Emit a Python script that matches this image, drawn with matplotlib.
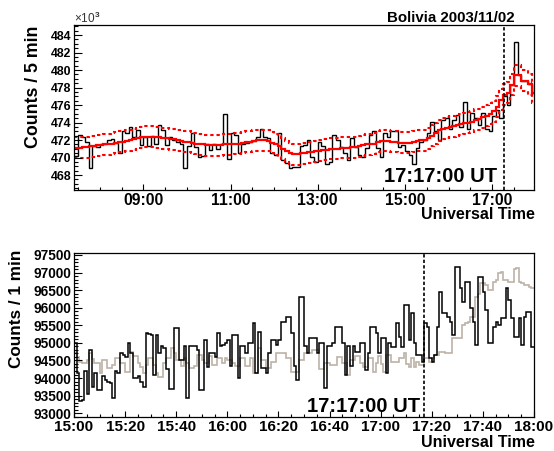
import numpy as np
import matplotlib
matplotlib.use("Agg")
import matplotlib.pyplot as plt
from matplotlib.ticker import MultipleLocator, FixedLocator, FuncFormatter

plt.rcParams['font.family'] = ['Liberation Sans', 'DejaVu Sans']
plt.rcParams['font.weight'] = 'bold'
plt.rcParams['mathtext.fontset'] = 'custom'
plt.rcParams['mathtext.rm'] = 'Liberation Sans'

# ---- top panel: 5 min counts (x10^3), bins start 07:25 ----
start_5min = 7 + 25 / 60.
bin_5min = 5 / 60.
counts_5min = [
    470.2, 472.6, 472.3, 471.8, 468.8, 471.3, 471.2, 471.6, 471.6, 472.0,
    472.1, 471.7, 470.5, 473.0, 472.8, 473.5, 472.4, 473.2, 471.4, 472.4,
    471.3, 472.5, 471.5, 473.7, 473.2, 471.4, 472.4, 472.0, 471.8, 471.6,
    468.8, 471.3, 472.8, 471.2, 470.1, 470.2, 471.6, 470.9, 471.6, 471.0,
    471.6, 475.0, 469.8, 472.8, 472.6, 470.5, 471.5, 471.7, 471.8, 471.9,
    472.3, 473.3, 472.3, 472.2, 470.5, 470.3, 472.8, 469.7, 469.4, 468.8,
    468.9, 468.9, 471.3, 471.4, 472.0, 470.1, 469.5, 471.8, 471.3, 469.3,
    469.5, 472.6, 472.0, 471.25, 470.5, 469.7, 472.2, 471.25, 470.3, 470.1,
    471.05, 472.6, 473.0, 471.05, 470.1, 472.8, 472.4, 473.0, 473.0, 471.25,
    471.4, 470.7, 470.3, 469.3, 471.05, 471.8, 472.0, 472.8, 474.1, 473.0,
    472.0, 474.3, 474.5, 473.3, 474.3, 474.9, 473.5, 476.4, 473.3, 475.05,
    474.5, 473.7, 475.05, 473.3, 473.0, 474.7, 475.4, 474.5, 477.0, 476.0,
    478.3, 483.25, 479.4, 478.8, 478.8, 478.4, 477.4,
]
smooth_5min = [
    471.1, 471.1, 471.2, 471.2, 471.3, 471.3, 471.4, 471.4, 471.5, 471.5,
    471.6, 471.7, 471.8, 471.8, 471.9, 472.0, 472.1, 472.2, 472.3, 472.4,
    472.4, 472.4, 472.3, 472.3, 472.2, 472.2, 472.1, 472.1, 472.0, 471.9,
    471.8, 471.8, 471.7, 471.6, 471.5, 471.5, 471.4, 471.4, 471.4, 471.4,
    471.4, 471.5, 471.5, 471.5, 471.6, 471.6, 471.7, 471.8, 471.8, 471.9,
    472.0, 472.0, 472.0, 471.9, 471.7, 471.5, 471.3, 471.0, 470.7, 470.5,
    470.4, 470.4, 470.5, 470.5, 470.6, 470.6, 470.7, 470.8, 470.9, 470.9,
    471.0, 471.0, 471.0, 471.1, 471.1, 471.1, 471.2, 471.2, 471.3, 471.4,
    471.5, 471.5, 471.6, 471.8, 471.9, 471.9, 471.9, 471.8, 471.8, 471.7,
    471.7, 471.7, 471.7, 471.8, 471.9, 472.0, 472.0, 472.2, 472.5, 472.8,
    473.1, 473.3, 473.4, 473.5, 473.6, 473.7, 473.8, 473.9, 474.0, 474.1,
    474.3, 474.4, 474.6, 474.8, 475.0, 475.3, 475.8, 476.6, 477.2, 477.4,
    478.3, 479.4, 479.4, 478.8, 478.8, 478.4, 477.4,
]
band_5min = 1.2

# ---- bottom panel: 1 min counts, bins start 15:00 ----
start_1min = 15.0
bin_1min = 1 / 60.
counts_1min = [
    95000, 94150, 93350, 93380, 94200, 93550, 94800, 93750, 94150, 93650,
    93650, 94050, 93950, 93900, 93850, 93430, 94200, 94150, 94700, 94650,
    94600, 94990, 94700, 94000, 94000, 94050, 93900, 93750, 95280, 95250,
    95230, 94090, 95230, 94700, 94900, 94850, 94250, 93700, 93700, 95410,
    95410, 94500, 94500, 94900, 93430, 94900, 94900, 94900, 94800, 93670,
    93670, 95080, 94300, 94700, 94700, 94600, 95280, 94900, 94950, 95000,
    95085, 94330, 95230, 95230, 94000, 94900, 94900, 94700, 94990, 94990,
    95560, 94140, 95320, 94280, 94280, 94140, 94700, 95080, 95080, 94940,
    95080, 95600, 95600, 95750, 95750, 95270, 94330, 93950, 96300, 96300,
    94900, 94700, 95130, 95130, 95130, 94700, 94990, 94990, 93710, 94900,
    94900, 94990, 95460, 95460, 95460, 94990, 94090, 94900, 94330, 94900,
    94750, 94750, 94990, 94990, 94230, 94700, 95460, 95460, 95270, 94700,
    95130, 95130, 94140, 94990, 94890, 94890, 95560, 95180, 94890, 96080,
    96080, 95080, 95840, 94990, 94660, 94660, 94470, 95560, 95460, 94560,
    94470, 94660, 95460, 96460, 95840, 95840, 95750, 95600, 95230, 97170,
    97170, 96550, 96170, 96740, 96740, 95980, 95600, 94940, 96880, 96880,
    96460, 95940, 94990, 94990, 95460, 95600, 95510, 95700, 95700, 96550,
    96220, 95700, 95180, 95180, 95700, 94940, 95750, 95890, 95890, 94890,
]
counts_1min_ref = [
    94700, 94600, 94450, 94420, 94420, 94500, 94700, 94550, 94420, 94420,
    94140, 94500, 94500, 94280, 94280, 94380, 94560, 94560, 94420, 94420,
    94180, 94180, 94750, 94620, 94620, 94420, 94300, 94140, 94380, 94560,
    94560, 94380, 94140, 94040, 94040, 94420, 94560, 94560, 94850, 94700,
    94500, 94500, 94330, 94560, 94420, 94280, 94280, 94330, 94650, 94650,
    94500, 94420, 94420, 94620, 94380, 94380, 94560, 94560, 94420, 94560,
    94520, 94520, 94420, 94330, 94330, 94560, 94560, 94330, 94330, 94560,
    94140, 94140, 94850, 94500, 94500, 94280, 94280, 94470, 94470, 94700,
    94700, 94700, 94700, 94560, 94560, 94180, 94180, 94180, 94500, 94500,
    94700, 94700, 94700, 94800, 94800, 94800, 94270, 94270, 94420, 94420,
    94370, 94370, 94370, 94600, 94600, 94420, 94420, 94080, 94500, 94500,
    94620, 94620, 94420, 94300, 94300, 94560, 94560, 94180, 94420, 94620,
    94400, 94180, 94660, 94660, 94470, 94470, 94470, 94560, 94560, 94700,
    94400, 94300, 94560, 94300, 94470, 94370, 94370, 94560, 94560, 94470,
    94560, 94660, 94660, 94750, 94750, 94700, 94700, 94700, 95130, 95130,
    95130, 95130, 95500, 95560, 95600, 95750, 95750, 96300, 96400, 96700,
    96700, 96650, 96500, 96500, 96740, 96790, 97000, 97030, 96800, 96800,
    96740, 96740, 97100, 97120, 96740, 96700, 96650, 96650, 96600, 96550,
]

onset = 17 + 17 / 60.
onset_label = "17:17:00 UT"

W, H = 554, 451
fig = plt.figure(figsize=(W / 100, H / 100), dpi=100)
ax1 = fig.add_axes([74 / W, 1 - 190 / H, 460 / W, 165.5 / H])
ax2 = fig.add_axes([74 / W, 1 - 416.7 / H, 460 / W, 164 / H])

e5 = start_5min + np.arange(len(counts_5min) + 1) * bin_5min
s5 = np.array(smooth_5min)
ax1.stairs(counts_5min, e5, color='black', lw=1.0, baseline=None)
ax1.stairs(s5 + band_5min, e5, color='red', lw=1.5, ls=(0, (1.6, 1.4)), baseline=None)
ax1.stairs(s5 - band_5min, e5, color='red', lw=1.5, ls=(0, (1.6, 1.4)), baseline=None)
ax1.stairs(s5, e5, color='red', lw=1.6, baseline=None)
ax1.axvline(onset, color='black', lw=1.2, ls=(0, (2.0, 1.3)))
ax1.set_xlim(7.41, 17.96)
ax1.set_ylim(466.3, 485.2)

e1 = start_1min + np.arange(len(counts_1min) + 1) * bin_1min
ax2.stairs(counts_1min_ref, e1, color='#bcb3a8', lw=1.2, baseline=None)
ax2.stairs(counts_1min, e1, color='black', lw=1.1, baseline=None)
ax2.axvline(onset, color='black', lw=1.2, ls=(0, (2.0, 1.3)))
ax2.set_xlim(15.0, 18.0)
ax2.set_ylim(92900, 97565)

# ticks
ax1.xaxis.set_major_locator(FixedLocator([9, 11, 13, 15, 17]))
ax1.xaxis.set_minor_locator(MultipleLocator(0.5))
ax1.xaxis.set_major_formatter(FuncFormatter(lambda h, p: "%02d:00" % round(h)))
ax1.yaxis.set_major_locator(MultipleLocator(2))
ax1.yaxis.set_minor_locator(MultipleLocator(0.5))
ax1.yaxis.set_major_formatter(FuncFormatter(lambda v, p: "%d" % round(v)))

def hm(h, p):
    m = int(round(h * 60))
    return "%02d:%02d" % (m // 60, m % 60)

ax2.xaxis.set_major_locator(MultipleLocator(20 / 60.))
ax2.xaxis.set_minor_locator(MultipleLocator(5 / 60.))
ax2.xaxis.set_major_formatter(FuncFormatter(hm))
ax2.yaxis.set_major_locator(MultipleLocator(500))
ax2.yaxis.set_minor_locator(MultipleLocator(100))
ax2.yaxis.set_major_formatter(FuncFormatter(lambda v, p: "%d" % round(v)))

for ax in (ax1, ax2):
    for s in ax.spines.values():
        s.set_linewidth(0.9)
    ax.tick_params(which='both', direction='in', top=False, right=False, width=0.8)
    ax.tick_params(axis='y', which='major', length=5.5, pad=2)
    ax.tick_params(axis='y', which='minor', length=2.8)
    ax.tick_params(axis='x', which='major', length=4.5, pad=2.5)
    ax.tick_params(axis='x', which='minor', length=2.3)
ax1.tick_params(axis='y', labelsize=8.8)
ax2.tick_params(axis='y', labelsize=9.8)
ax1.tick_params(axis='x', labelsize=11.3)
ax2.tick_params(axis='x', labelsize=11.0)

ax1.text(0.919, 0.05, onset_label, transform=ax1.transAxes, ha='right',
         va='baseline', fontsize=14.5)
ax2.text(0.752, 0.03, onset_label, transform=ax2.transAxes, ha='right',
         va='baseline', fontsize=14.5)

fig.text(535 / W, 1 - 219 / H, "Universal Time", ha='right', va='baseline', fontsize=11.5)
fig.text(535 / W, 1 - 447 / H, "Universal Time", ha='right', va='baseline', fontsize=11.5)
fig.text(515 / W, 1 - 21.7 / H, "Bolivia 2003/11/02", ha='right', va='baseline', fontsize=10.8)
fig.text(74 / W, 1 - 22.7 / H, r"×10$^{3}$", ha='left', va='baseline', fontsize=8.5,
         fontweight='normal', color='#333333')
fig.text(33 / W, 1 - 86.7 / H, "Counts / 5 min", rotation=90, ha='center', va='center',
         fontsize=12.8)
fig.text(16.5 / W, 1 - 309 / H, "Counts / 1 min", rotation=90, ha='center', va='center',
         fontsize=12.3)

fig.savefig("out.png", dpi=100)
